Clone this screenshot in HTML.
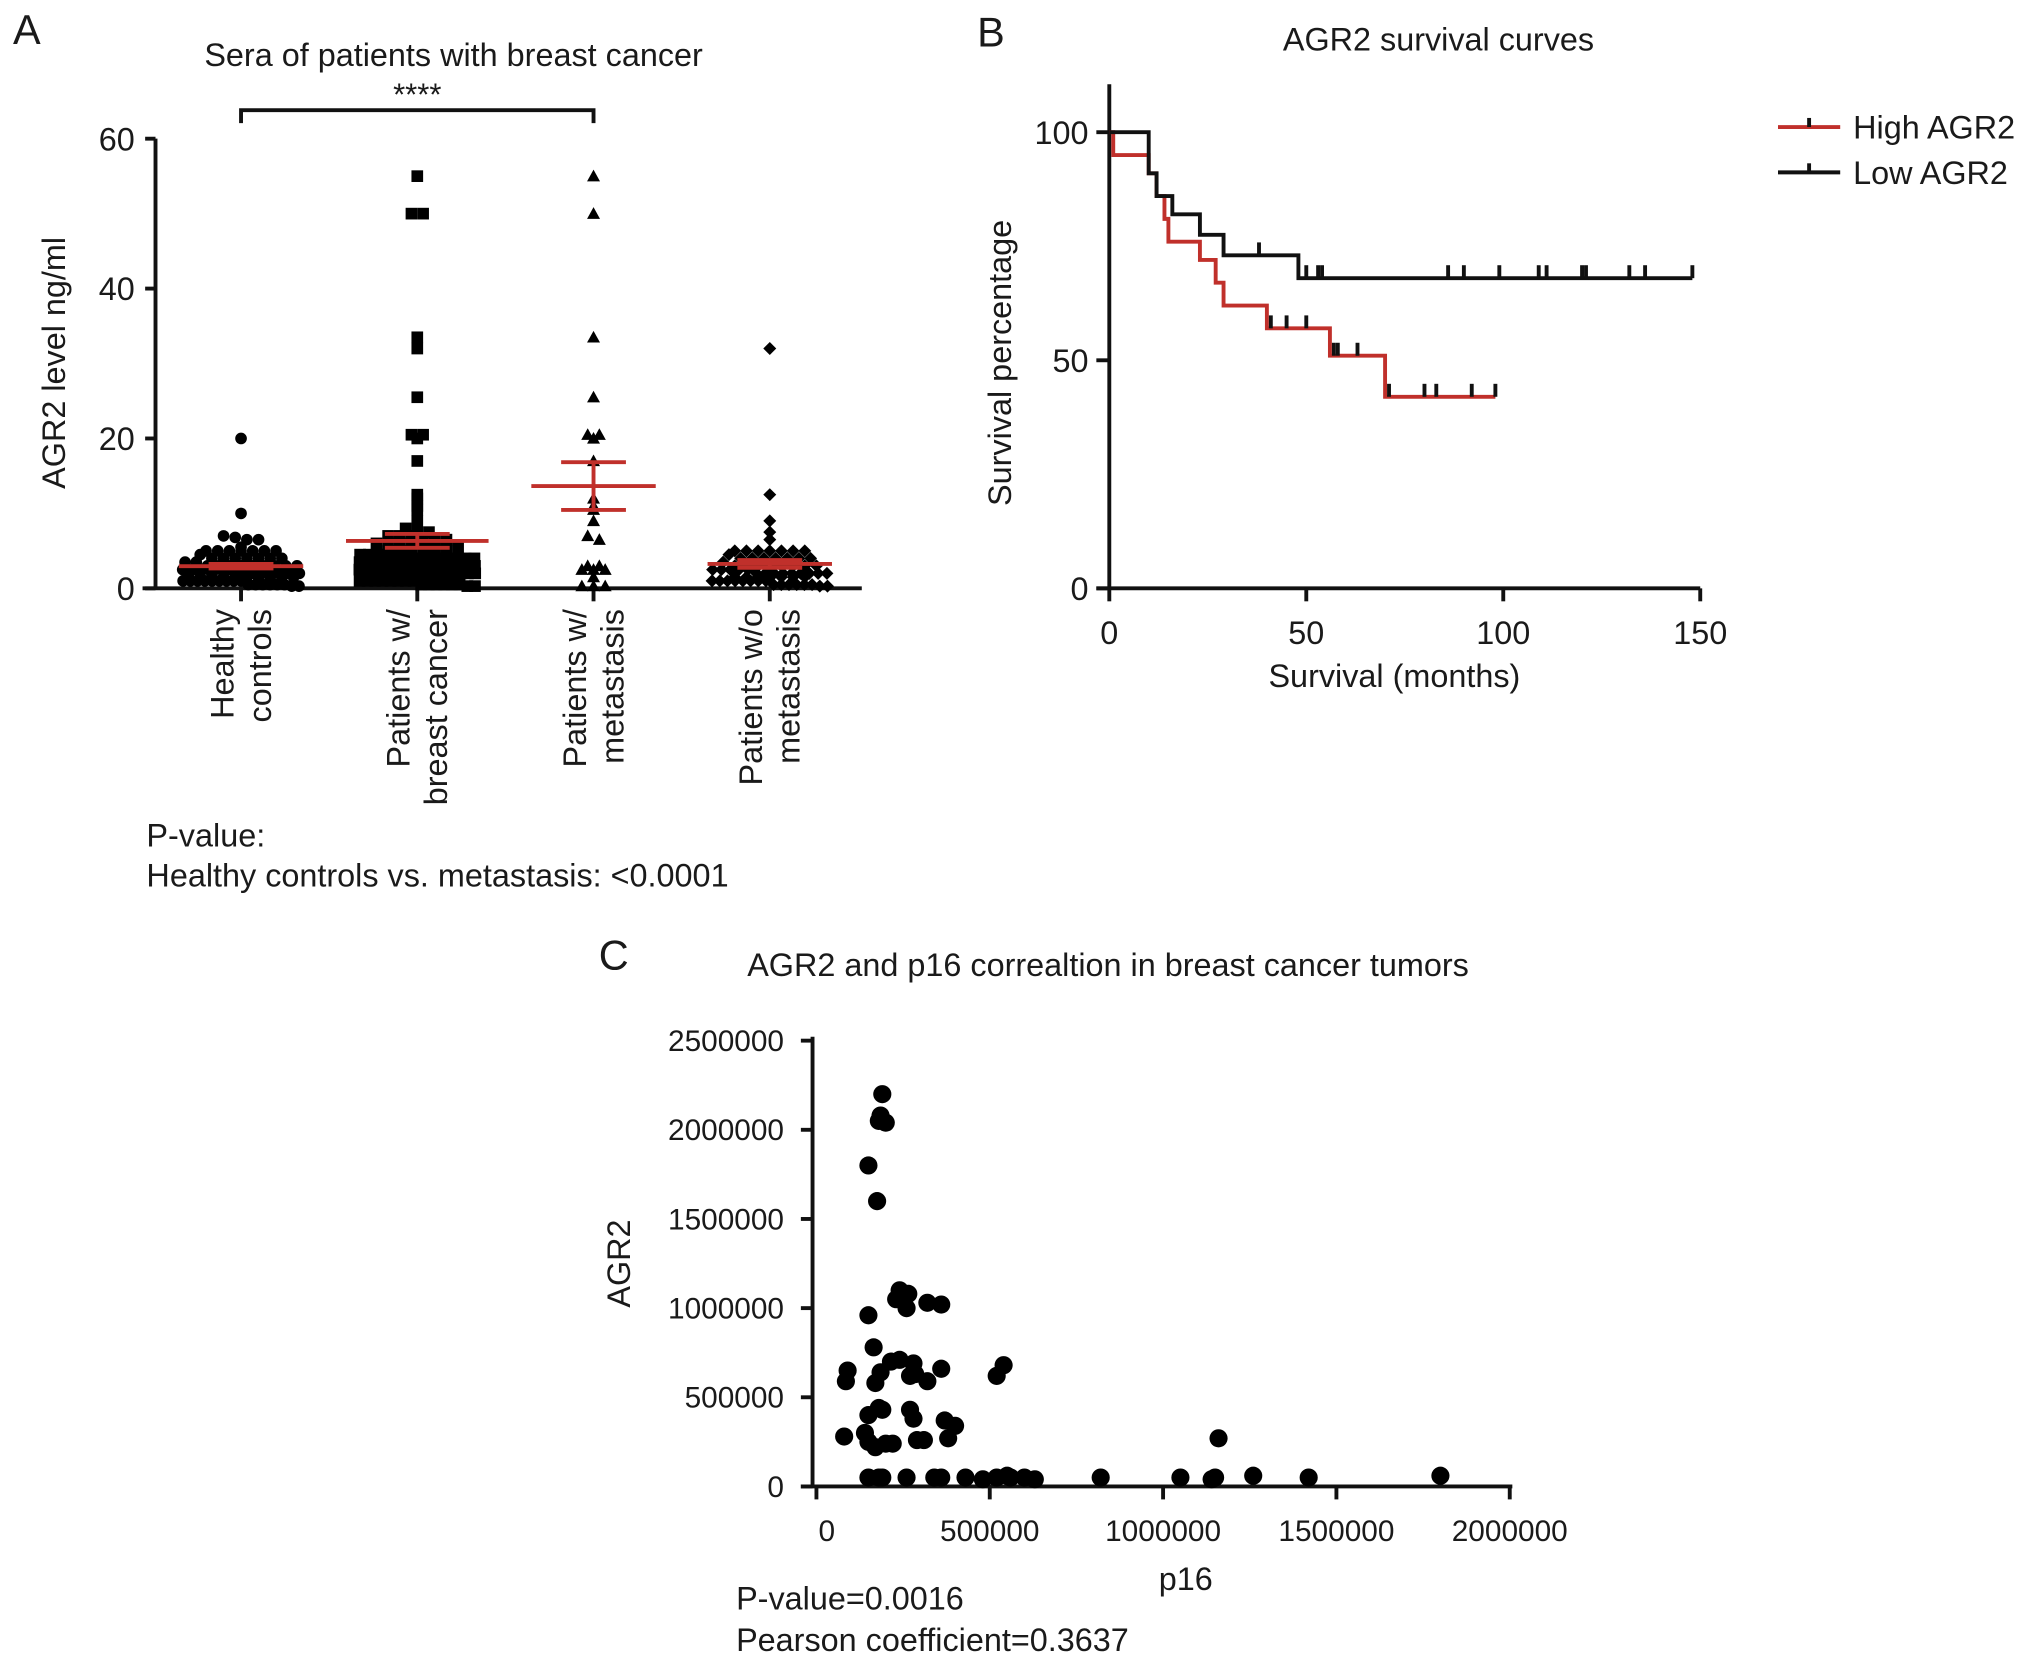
<!DOCTYPE html>
<html><head><meta charset="utf-8"><style>
html,body{margin:0;padding:0;background:#fff}
svg{display:block}
text{font-family:"Liberation Sans",Arial,sans-serif;fill:#1a1a1a}
</style></head><body>
<svg id="fig" width="2032" height="1664" viewBox="0 0 1568 1284" xmlns="http://www.w3.org/2000/svg">
<g id="pa">
<text x="10" y="34" font-size="32">A</text>
<text x="350" y="51" font-size="25" text-anchor="middle">Sera of patients with breast cancer</text>
<text x="322" y="81" font-size="24" text-anchor="middle">****</text>
<path d="M186,95 V85 H458 V95" fill="none" stroke="#111" stroke-width="3"/>
<text transform="translate(50,280) rotate(-90)" font-size="25" text-anchor="middle">AGR2 level ng/ml</text>
<text x="113" y="653" font-size="25">P-value:</text>
<text x="113" y="684" font-size="25">Healthy controls vs. metastasis: &lt;0.0001</text>
</g>
<g id="pb">
<text x="754" y="36" font-size="32">B</text>
<text x="1110" y="39" font-size="25" text-anchor="middle">AGR2 survival curves</text>
<text transform="translate(780,280) rotate(-90)" font-size="25" text-anchor="middle">Survival percentage</text>
<text x="1076" y="530" font-size="25" text-anchor="middle">Survival (months)</text>
<g>
<g><line x1="1372" y1="98" x2="1420" y2="98" stroke="#c0302b" stroke-width="3"/><line x1="1396" y1="91" x2="1396" y2="98" stroke="#111" stroke-width="3"/><text x="1430" y="107" font-size="25">High AGR2</text></g>
<g><line x1="1372" y1="133" x2="1420" y2="133" stroke="#111" stroke-width="3"/><line x1="1396" y1="126" x2="1396" y2="133" stroke="#111" stroke-width="3"/><text x="1430" y="142" font-size="25">Low AGR2</text></g>
</g>
</g>
<g id="pc">
<text x="462" y="748" font-size="32">C</text>
<text x="855" y="753" font-size="25" text-anchor="middle">AGR2 and p16 correaltion in breast cancer tumors</text>
<text transform="translate(486,975) rotate(-90)" font-size="25" text-anchor="middle">AGR2</text>
<text x="915" y="1227" font-size="25" text-anchor="middle">p16</text>
<text x="568" y="1242" font-size="25">P-value=0.0016</text>
<text x="568" y="1274" font-size="25">Pearson coefficient=0.3637</text>
</g>
</svg>
<script>
// ---------- Panel A data ----------
const groupsA = ["Healthy controls","Patients w/ breast cancer","Patients w/ metastasis","Patients w/o metastasis"];
const healthy = [20,10,7,6.5,6.5,6.8,5.5,5,5,5,5,5,5,5,4.5,4,4,4,4,4,4,4,3.5,3.5,3,3,3,3,3,3,3,3,3,2.5,2.5,2.5,2.5,2.5,2.5,2.5,2.5,2.5,2,2,2,2,2,2,2,2,2,2,1.5,1.5,1.5,1.5,1.5,1.5,1.5,1.5,1.5,1.5,1,1,1,1,1,1,1,1,1,0.5,0.5,0.5,0.5,0.5,0.5,0.3,0.3];
const cancer = [55,50,50,33.5,32,25.5,20.5,20,20.5,17,12.5,12,11,10.5,9,8,7.5,7,7.5,7,7,6.5,6.5,6.5,6,6,6,6,5.5,5.5,5.5,5.5,5,5,5,5,5,5,4.5,4.5,4.5,4.5,4.5,4.5,4,4,4,4,4,4,4,4,3.5,3.5,3.5,3.5,3.5,3.5,3.5,3,3,3,3,3,3,3,3,3,2.5,2.5,2.5,2.5,2.5,2.5,2.5,2.5,2,2,2,2,2,2,2,2,2,1.5,1.5,1.5,1.5,1.5,1.5,1.5,1.5,1,1,1,1,1,1,1,1,0.5,0.5,0.5,0.5,0.5,0.5,0.3,0.3];
const metastasis = [55,50,33.5,25.5,20.5,20,20.5,17,12,11,10.5,9,7,6.5,3,3,2.5,2.5,2.5,1.5,0.3,0.3,0.3];
const nonMetastasis = [32,12.5,9,7.5,6.5,5,5,5,5,5,5,5,4.5,4,4,4,4,4,4,4,3.5,3,3,3,3,3,3,3,3,2.5,2.5,2.5,2.5,2.5,2,2,2,2,2,2,2,2,2,1.5,1.5,1.5,1.5,1.5,1.5,1.5,1,1,1,1,1,1,1,1,0.5,0.5,0.5,0.5,0.5,0.5,0.3,0.3];
const groupValuesA = [healthy,cancer,metastasis,nonMetastasis];
const yTicksA = [0,20,40,60];
// ---------- Panel B data ----------
const lowTimes = [0,10,12,16,23,29,48,148];
const lowSurv = [100,91,86,82,77.5,73,68,68];
const lowCensor = [38,50,53,54,86,90,99,109,111,120,121,132,136,148];
const highTimes = [0,1,10,12,14,15,23,27,29,40,56,70,98];
const highSurv = [100,95,91,86,81,76,72,67,62,57,51,42,42];
const highCensor = [41,45,50,57,58,63,71,80,83,92,98];
const xTicksB = [0,50,100,150];
const yTicksB = [0,50,100];
// ---------- Panel C data ----------
const p16 = [190000,180000,200000,185000,150000,175000,240000,230000,265000,260000,320000,360000,150000,165000,90000,85000,215000,240000,280000,285000,270000,185000,170000,360000,320000,520000,540000,150000,190000,180000,270000,280000,370000,400000,80000,140000,150000,170000,200000,220000,290000,310000,380000,1160000,150000,180000,190000,260000,340000,360000,430000,480000,520000,550000,560000,600000,630000,820000,1050000,1140000,1150000,1260000,1420000,1800000];
const agr2 = [2200000,2050000,2040000,2080000,1800000,1600000,1100000,1050000,1080000,1000000,1030000,1020000,960000,780000,650000,590000,700000,710000,690000,630000,620000,640000,580000,660000,590000,620000,680000,400000,430000,440000,430000,380000,370000,340000,280000,300000,250000,220000,240000,240000,260000,260000,270000,270000,50000,50000,50000,50000,50000,50000,50000,40000,50000,60000,50000,50000,40000,50000,50000,40000,50000,60000,50000,60000];
const xTicksC = [0,500000,1000000,1500000,2000000];
const yTicksC = [0,500000,1000000,1500000,2000000,2500000];

const NS="http://www.w3.org/2000/svg";
function mk(tag,attrs,parent){const e=document.createElementNS(NS,tag);for(const k in attrs)e.setAttribute(k,attrs[k]);parent.appendChild(e);return e;}
const pa=document.getElementById('pa'),pb=document.getElementById('pb'),pc=document.getElementById('pc');

// ---------- Panel A ----------
const yA=v=>454-v*(454-107)/60;
const xA=i=>186+i*136;
let ax=mk('path',{d:'M120,107 V454 M110,454 H665',stroke:'#111','stroke-width':3,fill:'none'},pa);


yTicksA.forEach(t=>{
  const l=mk('line',{x1:112,x2:120,y1:yA(t),y2:yA(t),stroke:'#111','stroke-width':3},pa);
  
  
  const tx=mk('text',{x:104,y:yA(t)+9,'font-size':25,'text-anchor':'end'},pa);tx.textContent=t;
  
  
});
const labLines=[["Healthy","controls"],["Patients w/","breast cancer"],["Patients w/","metastasis"],["Patients w/o","metastasis"]];
groupsA.forEach((g,i)=>{
  const l=mk('line',{x1:xA(i),x2:xA(i),y1:454,y2:464,stroke:'#111','stroke-width':3},pa);
  
  
  labLines[i].forEach((s,j)=>{
    const t=mk('text',{transform:`translate(${xA(i)-6+j*29},470) rotate(-90)`,'font-size':25,'text-anchor':'end'},pa);t.textContent=s;
    
    
  });
});
groupValuesA.forEach((vals,i)=>{
  const bins={};
  [...vals].sort((a,b)=>b-a).forEach(v=>{const py=yA(v);const k=Math.round(py/5);(bins[k]=bins[k]||[]).push(py);});
  Object.values(bins).forEach(row=>{
    const n=row.length,sp=n>10?Math.min(9,95/n):9;
    row.forEach((py,j)=>{
      const cx=xA(i)+(j-(n-1)/2)*sp;let m;
      if(i===0)m=mk('circle',{cx,cy:py,r:4.5,fill:'#000'},pa);
      else if(i===1)m=mk('rect',{x:cx-4.5,y:py-4.5,width:9,height:9,fill:'#000'},pa);
      else if(i===2)m=mk('polygon',{points:`${cx},${py-5} ${cx+5},${py+4} ${cx-5},${py+4}`,fill:'#000'},pa);
      else m=mk('polygon',{points:`${cx},${py-5} ${cx+5},${py} ${cx},${py+5} ${cx-5},${py}`,fill:'#000'},pa);
      
      
    });
  });
  const mean=vals.reduce((a,b)=>a+b,0)/vals.length;
  const sd=Math.sqrt(vals.reduce((a,b)=>a+(b-mean)**2,0)/(vals.length-1));
  const sem=sd/Math.sqrt(vals.length);
  const w=i===1?55:48;
  const ml=mk('line',{x1:xA(i)-w,x2:xA(i)+w,y1:yA(mean),y2:yA(mean),stroke:'#c0302b','stroke-width':3},pa);
  
  
  const e=mk('path',{d:`M${xA(i)},${yA(mean+sem)} V${yA(mean-sem)} M${xA(i)-25},${yA(mean+sem)} h50 M${xA(i)-25},${yA(mean-sem)} h50`,stroke:'#c0302b','stroke-width':3,fill:'none'},pa);
  
  
});

// ---------- Panel B ----------
const xB=t=>856+t*(1312-856)/150;
const yB=s=>454-s*(454-102)/100;
let axb=mk('path',{d:'M856,65 V454 M846,454 H1312',stroke:'#111','stroke-width':3,fill:'none'},pb);


xTicksB.forEach(t=>{
  const l=mk('line',{x1:xB(t),x2:xB(t),y1:454,y2:464,stroke:'#111','stroke-width':3},pb);
  
  
  const tx=mk('text',{x:xB(t),y:497,'font-size':25,'text-anchor':'middle'},pb);tx.textContent=t;
  
  
});
yTicksB.forEach(t=>{
  const l=mk('line',{x1:846,x2:856,y1:yB(t),y2:yB(t),stroke:'#111','stroke-width':3},pb);
  
  
  const tx=mk('text',{x:840,y:yB(t)+9,'font-size':25,'text-anchor':'end'},pb);tx.textContent=t;
  
  
});
function stepPath(ts,ss){let d=`M${xB(ts[0])},${yB(ss[0])}`;for(let k=1;k<ts.length;k++){d+=` H${xB(ts[k])} V${yB(ss[k])}`;}return d;}
function survAt(ts,ss,t){let s=ss[0];for(let k=0;k<ts.length;k++)if(ts[k]<=t)s=ss[k];return s;}
const hp=mk('path',{d:stepPath(highTimes,highSurv),stroke:'#c0302b','stroke-width':3,fill:'none'},pb);


const lp=mk('path',{d:stepPath(lowTimes,lowSurv),stroke:'#111','stroke-width':3,fill:'none'},pb);


[[highCensor,highTimes,highSurv],[lowCensor,lowTimes,lowSurv]].forEach(([cs,ts,ss])=>{
  cs.forEach(t=>{const y=yB(survAt(ts,ss,t));
    const c=mk('line',{x1:xB(t),x2:xB(t),y1:y-10,y2:y,stroke:'#111','stroke-width':3},pb);
    
    
  });
});

// ---------- Panel C ----------
const xC=v=>630+v*(1165-630)/2000000;
const yC=v=>1147-v*(1147-803)/2500000;
let axc=mk('path',{d:'M627,800 V1147 M618,1147 H1167',stroke:'#111','stroke-width':3,fill:'none'},pc);


xTicksC.forEach(t=>{
  const l=mk('line',{x1:xC(t),x2:xC(t),y1:1147,y2:1157,stroke:'#111','stroke-width':3},pc);
  
  
  const tx=mk('text',{x:xC(t)+(t===0?8:0),y:1189,'font-size':23,'text-anchor':'middle'},pc);tx.textContent=t;
  
  
});
yTicksC.forEach(t=>{
  const l=mk('line',{x1:618,x2:627,y1:yC(t),y2:yC(t),stroke:'#111','stroke-width':3},pc);
  
  
  const tx=mk('text',{x:605,y:yC(t)+8,'font-size':23,'text-anchor':'end'},pc);tx.textContent=t;
  
  
});
p16.forEach((v,k)=>{
  const c=mk('circle',{cx:xC(v),cy:yC(agr2[k]),r:7,fill:'#000'},pc);
  
  
});
</script>
</body></html>
